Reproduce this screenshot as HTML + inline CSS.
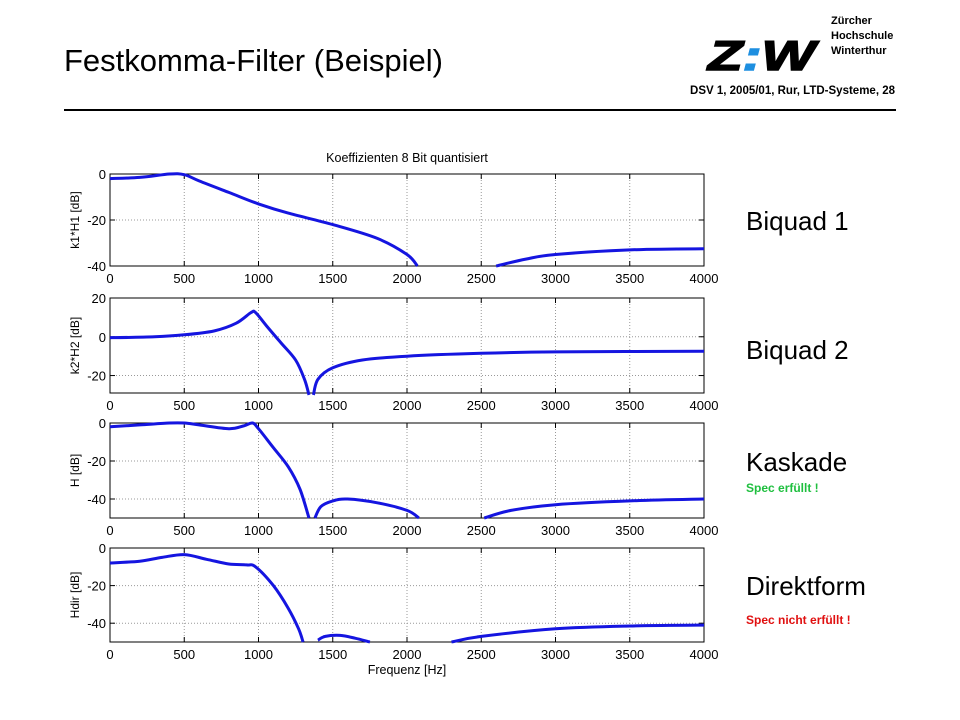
<!DOCTYPE html>
<html><head><meta charset="utf-8"><style>
body{margin:0;width:960px;height:720px;background:#fff;font-family:"Liberation Sans",sans-serif;position:relative;overflow:hidden}
.a{position:absolute;white-space:nowrap}
</style></head><body>
<div class="a" style="left:64px;top:43px;font-size:31px">Festkomma-Filter (Beispiel)</div>
<div class="a" style="left:64px;top:109px;width:832px;height:2px;background:#000"></div>
<div class="a" style="right:65px;top:85px;font-size:11.5px;font-weight:bold">DSV 1, 2005/01, Rur, LTD-Systeme, 28</div>
<div class="a" style="left:708px;top:36px;font-size:42px;font-weight:900;font-style:italic;line-height:40px;letter-spacing:0px;transform:scaleX(1.35);transform-origin:left;-webkit-text-stroke:1.5px #000">Z<span style="color:#1e8fe0;-webkit-text-stroke:1.5px #1e8fe0">:</span>W</div>
<div class="a" style="left:831px;top:14px;font-size:11px;font-weight:bold;line-height:15px">Zürcher<br>Hochschule<br>Winterthur</div>
<div class="a" style="left:746px;top:206px;font-size:26px">Biquad 1</div>
<div class="a" style="left:746px;top:335px;font-size:26px">Biquad 2</div>
<div class="a" style="left:746px;top:447px;font-size:26px">Kaskade</div>
<div class="a" style="left:746px;top:481px;font-size:12px;font-weight:bold;color:#1fbf3f">Spec erfüllt !</div>
<div class="a" style="left:746px;top:571px;font-size:26px">Direktform</div>
<div class="a" style="left:746px;top:613px;font-size:12px;font-weight:bold;color:#e01010">Spec nicht erfüllt !</div>
<svg id="c" width="960" height="720" style="position:absolute;left:0;top:0"></svg>
<script>
const xTicks=[0,500,1000,1500,2000,2500,3000,3500,4000];
const p1Freq=[0,200,400,500,600,800,1000,1200,1500,1800,2000,2070,null,2600,2800,3000,3500,4000];
const p1Val=[-2,-1.5,0,-0.3,-3,-8,-13,-17,-22,-28,-35,-40,null,-40,-37,-35,-33,-32.5];
const p2Freq=[0,300,500,700,850,950,980,1050,1150,1250,1310,1340,null,1370,1400,1500,1700,2000,2500,3000,4000];
const p2Val=[-0.5,0,1,3,7,12.5,12.5,6,-3,-12,-22,-30,null,-30,-22,-16,-12,-10,-8.5,-7.8,-7.5];
const p3Freq=[0,200,400,500,600,800,900,960,1000,1100,1200,1280,1340,null,1380,1420,1500,1600,1800,2000,2080,null,2520,2700,3000,3500,4000];
const p3Val=[-2,-1,0,0,-1,-3,-1.5,0,-3,-13,-23,-35,-50,null,-50,-44,-41,-40,-42,-46,-50,null,-50,-46,-43,-41,-40];
const p4Freq=[0,200,350,500,650,800,920,980,1100,1200,1270,1300,null,1400,1450,1550,1650,1750,null,2300,2500,3000,3500,4000];
const p4Val=[-8,-7,-5,-3.5,-6,-8.5,-9,-10,-20,-32,-43,-50,null,-49,-47,-46.5,-48,-50,null,-50,-47,-43,-41.5,-41];
const panels=[
 {top:174,bot:266,ymin:-40,ymax:0,yt:[0,-20,-40],lab:"k1*H1 [dB]",f:p1Freq,v:p1Val,n:"biquad1"},
 {top:298,bot:393,ymin:-29,ymax:20,yt:[20,0,-20],lab:"k2*H2 [dB]",f:p2Freq,v:p2Val,n:"biquad2"},
 {top:423,bot:518,ymin:-50,ymax:0,yt:[0,-20,-40],lab:"H [dB]",f:p3Freq,v:p3Val,n:"kaskade"},
 {top:548,bot:642,ymin:-50,ymax:0,yt:[0,-20,-40],lab:"Hdir [dB]",f:p4Freq,v:p4Val,n:"direktform"}];
const X0=110,X1=704;
const svg=document.getElementById('c');const NS='http://www.w3.org/2000/svg';
function mk(t,a,p){const e=document.createElementNS(NS,t);for(const k in a)e.setAttribute(k,a[k]);(p||svg).appendChild(e);return e;}
const sx=f=>X0+f/4000*(X1-X0);
function smooth(pts){
 if(pts.length<3)return 'M'+pts.map(p=>p.join(',')).join('L');
 let d='M'+pts[0][0].toFixed(1)+','+pts[0][1].toFixed(1);
 for(let i=0;i<pts.length-1;i++){
  const p0=pts[Math.max(0,i-1)],p1=pts[i],p2=pts[i+1],p3=pts[Math.min(pts.length-1,i+2)];
  const c1=[p1[0]+(p2[0]-p0[0])/6,p1[1]+(p2[1]-p0[1])/6],c2=[p2[0]-(p3[0]-p1[0])/6,p2[1]-(p3[1]-p1[1])/6];
  d+='C'+c1.map(n=>n.toFixed(1))+' '+c2.map(n=>n.toFixed(1))+' '+p2.map(n=>n.toFixed(1));
 }
 return d;
}
panels.forEach(P=>{
 const sy=v=>P.top+(P.ymax-v)/(P.ymax-P.ymin)*(P.bot-P.top);
 const g=mk('g',{});
 
 
 xTicks.forEach(t=>{const x=sx(t);
  if(t>0&&t<4000)mk('line',{x1:x,x2:x,y1:P.top,y2:P.bot,stroke:'#999','stroke-dasharray':'1,2','stroke-width':1},g);
  mk('line',{x1:x,x2:x,y1:P.bot,y2:P.bot-5,stroke:'#000'},g);
  mk('line',{x1:x,x2:x,y1:P.top,y2:P.top+5,stroke:'#000'},g);
  const tx=mk('text',{x:x,y:P.bot+17,'font-size':13,'text-anchor':'middle','font-family':'Liberation Sans'},g);tx.textContent=t;
  
 });
 P.yt.forEach(t=>{const y=sy(t);
  if(y>P.top+1&&y<P.bot-1)mk('line',{x1:X0,x2:X1,y1:y,y2:y,stroke:'#999','stroke-dasharray':'1,2'},g);
  mk('line',{x1:X0,x2:X0+5,y1:y,y2:y,stroke:'#000'},g);
  mk('line',{x1:X1,x2:X1-5,y1:y,y2:y,stroke:'#000'},g);
  const tx=mk('text',{x:X0-4,y:y+5,'font-size':13,'text-anchor':'end','font-family':'Liberation Sans'},g);tx.textContent=t;
  
 });
 mk('rect',{x:X0,y:P.top,width:X1-X0,height:P.bot-P.top,fill:'none',stroke:'#000'},g);
 const yl=mk('text',{transform:`translate(79,${(P.top+P.bot)/2}) rotate(-90)`,'font-size':12,'text-anchor':'middle','font-family':'Liberation Sans'},g);yl.textContent=P.lab;
 
 let segs=[[]];
 P.f.forEach((f,i)=>{if(f===null){segs.push([]);return;}segs[segs.length-1].push([sx(f),sy(P.v[i])]);});
 const d=segs.filter(s=>s.length).map(smooth).join('');
 const ln=mk('path',{d:d,fill:'none',stroke:'#1515e0','stroke-width':3,'stroke-linejoin':'round'},g);
 
});
const t=mk('text',{x:407,y:162,'font-size':12.5,'text-anchor':'middle','font-family':'Liberation Sans'});t.textContent='Koeffizienten 8 Bit quantisiert';

const xl=mk('text',{x:407,y:674,'font-size':12.5,'text-anchor':'middle','font-family':'Liberation Sans'});xl.textContent='Frequenz [Hz]';

</script>
</body></html>
